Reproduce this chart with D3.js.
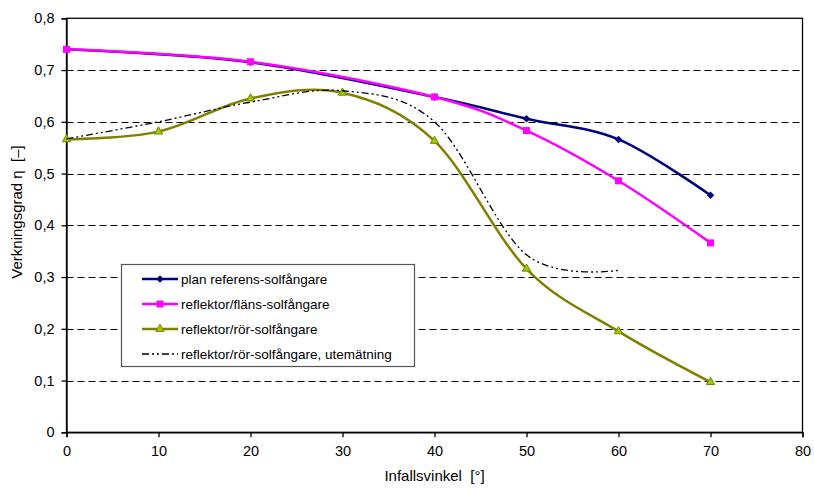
<!DOCTYPE html>
<html><head><meta charset="utf-8">
<script src="https://cdn.jsdelivr.net/npm/d3@7"></script>
<style>body{margin:0;background:#fff}svg{display:block;font-family:"Liberation Sans",Arial,sans-serif}text{white-space:pre}</style>
</head><body><svg id="c" width="814" height="489"></svg>
<script>
const xTicks = [0,10,20,30,40,50,60,70,80];
const yTicks = [0,0.1,0.2,0.3,0.4,0.5,0.6,0.7,0.8];
const planX = [0,20,40,50,60,70];
const planY = [0.740,0.715,0.648,0.606,0.566,0.458];
const flansX = [0,20,40,50,60,70];
const flansY = [0.740,0.716,0.648,0.583,0.486,0.366];
const rorX = [0,10,20,30,40,50,60,70];
const rorY = [0.566,0.581,0.645,0.656,0.563,0.316,0.195,0.097];
const uteX = [0,10,20,30,40,50,60];
const uteY = [0.567,0.600,0.638,0.660,0.600,0.343,0.313];
const seriesNames = ["plan referens-solfångare","reflektor/fläns-solfångare","reflektor/rör-solfångare","reflektor/rör-solfångare, utemätning"];

const svg = d3.select("#c");
const L=66.5,R=802.5,T=18.3,B=432.3;
const x = d3.scaleLinear().domain([0,80]).range([L,R]);
const y = d3.scaleLinear().domain([0,0.8]).range([B,T]);
const fmt = d => d===0 ? "0" : d3.format(".1f")(d).replace(".",",");

// gridlines
svg.append("g").selectAll("line").data(yTicks.filter(d=>d>0&&d<0.8)).join("line")
  .attr("x1",L).attr("x2",R).attr("y1",d=>Math.round(y(d))+0.5).attr("y2",d=>Math.round(y(d))+0.5)
  .attr("stroke","#000").attr("stroke-width",1).attr("stroke-dasharray","7,4");
// border
svg.append("rect").attr("x",L).attr("y",T).attr("width",R-L).attr("height",B-T)
  .attr("fill","none").attr("stroke","#000").attr("stroke-width",1.3);

const ya = svg.append("g").attr("transform",`translate(${L},0)`)
  .call(d3.axisLeft(y).tickValues(yTicks).tickFormat(fmt).tickSize(5).tickPadding(7));
const xa = svg.append("g").attr("transform",`translate(0,${B})`)
  .call(d3.axisBottom(x).tickValues(xTicks).tickFormat(d3.format("d")).tickSize(5).tickPadding(8));
[ya,xa].forEach(a=>{a.select(".domain").attr("stroke","#000").attr("stroke-width",1.3);
  a.selectAll(".tick line").attr("stroke","#000").attr("stroke-width",1.3);
  a.selectAll("text").attr("font-size",14.5).attr("fill","#000").attr("font-family","Liberation Sans, Arial, sans-serif");});

svg.append("text").attr("x",(L+R)/2).attr("y",481).attr("text-anchor","middle")
  .attr("font-size",15).text("Infallsvinkel  [°]");
svg.append("text").attr("transform",`translate(21.5,212) rotate(-90)`).attr("text-anchor","middle")
  .attr("font-size",15).text("Verkningsgrad η  [–]");

const curve = d3.curveCardinal.tension(0);
function lineOf(xs,ys){return d3.line().x((d,i)=>x(xs[i])).y(d=>y(d)).curve(curve)(ys);}

const blue="#000080", pink="#ff00ff", olive="#808000", tri="#99cc00";
// plan
svg.append("path").attr("d",lineOf(planX,planY)).attr("fill","none").attr("stroke",blue).attr("stroke-width",2.5);
const diamond = d3.symbol().type(d3.symbolDiamond2).size(36);
svg.append("g").selectAll("path").data(planY).join("path").attr("d",diamond)
  .attr("transform",(d,i)=>`translate(${x(planX[i])},${y(d)})`).attr("fill",blue);
// flans
svg.append("path").attr("d",lineOf(flansX,flansY)).attr("fill","none").attr("stroke",pink).attr("stroke-width",2.5);
svg.append("g").selectAll("rect").data(flansY).join("rect")
  .attr("x",(d,i)=>x(flansX[i])-3.5).attr("y",d=>y(d)-3.5).attr("width",7).attr("height",7).attr("fill",pink);
// ror
svg.append("path").attr("d",lineOf(rorX,rorY)).attr("fill","none").attr("stroke",olive).attr("stroke-width",2.5);
const triangle = d3.symbol().type(d3.symbolTriangle).size(30);
svg.append("g").selectAll("path").data(rorY).join("path").attr("d",triangle)
  .attr("transform",(d,i)=>`translate(${x(rorX[i])},${y(d)})`).attr("fill",tri).attr("stroke",olive).attr("stroke-width",1);
// ute
svg.append("path").attr("d",lineOf(uteX,uteY)).attr("fill","none").attr("stroke","#000").attr("stroke-width",1.3)
  .attr("stroke-dasharray","7,3,2,3,2,3");

// legend
const lg = svg.append("g");
lg.append("rect").attr("x",121.5).attr("y",264.5).attr("width",293).attr("height",102)
  .attr("fill","#fff").attr("stroke","#555").attr("stroke-width",1.2);
const ly = [279,304,329,354];
const styles=[{c:blue,w:2.5,m:"d"},{c:pink,w:2.5,m:"s"},{c:olive,w:2.5,m:"t"},{c:"#000",w:1.5,m:null,dash:"7,3,2,3,2,3"}];
styles.forEach((s,i)=>{
  lg.append("line").attr("x1",142).attr("x2",178).attr("y1",ly[i]).attr("y2",ly[i])
    .attr("stroke",s.c).attr("stroke-width",s.w).attr("stroke-dasharray",s.dash||null);
  if(s.m==="d") lg.append("path").attr("d",diamond).attr("transform",`translate(160,${ly[i]})`).attr("fill",blue);
  if(s.m==="s") lg.append("rect").attr("x",156.5).attr("y",ly[i]-3.5).attr("width",7).attr("height",7).attr("fill",pink);
  if(s.m==="t") lg.append("path").attr("d",triangle).attr("transform",`translate(160,${ly[i]})`).attr("fill",tri).attr("stroke",olive);
  lg.append("text").attr("x",181).attr("y",ly[i]+5).attr("font-size",13.5).text(seriesNames[i]);
});
</script></body></html>
